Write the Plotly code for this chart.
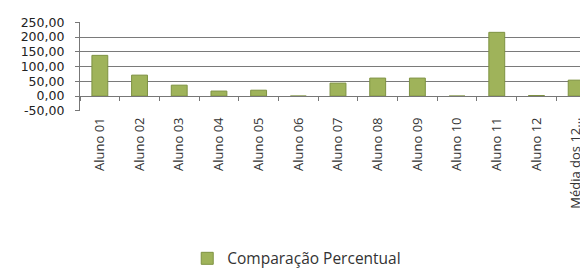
import plotly.graph_objects as go

categories = ["Aluno 01", "Aluno 02", "Aluno 03", "Aluno 04", "Aluno 05", "Aluno 06",
              "Aluno 07", "Aluno 08", "Aluno 09", "Aluno 10", "Aluno 11", "Aluno 12",
              "Média dos 12..."]
values = [138, 71, 37, 17, 20, 0, 44, 61, 61, 0, 216, 2, 54]
series_name = "Comparação Percentual"
y_tickvals = [-50, 0, 50, 100, 150, 200, 250]
y_ticktext = ["-50,00", "0,00", "50,00", "100,00", "150,00", "200,00", "250,00"]

fig = go.Figure()
fig.add_trace(go.Bar(
    x=categories, y=values, name=series_name,
    marker=dict(color="#9fb35a", line=dict(color="#7e9242", width=1)),
    showlegend=True,
))

fig.update_layout(
    width=588, height=270,
    margin=dict(l=72, r=0, t=14, b=167, autoexpand=False),
    paper_bgcolor="white", plot_bgcolor="white",
    bargap=0.6,
    font=dict(family="Open Sans", color="#222"),
    legend=dict(orientation="h", x=0.42, xanchor="center", y=-1.66, yanchor="middle",
                font=dict(size=15.5, family="Open Sans", color="#333"),
                itemwidth=30),
    xaxis=dict(
        type="category", anchor="free", position=50/300,
        showline=True, linecolor="#777", linewidth=1.2,
        ticks="outside", ticklen=4, tickcolor="#777", tickson="boundaries",
        tickangle=-90, tickfont=dict(size=13, family="Open Sans", color="#333"),
        ticklabelstandoff=15, automargin=False,
        showgrid=False,
    ),
    yaxis=dict(
        range=[-50.5, 251], tickvals=y_tickvals, ticktext=y_ticktext,
        showgrid=True, gridcolor="#7a7a7a", gridwidth=1.4,
        zeroline=False, automargin=False,
        showline=True, linecolor="#777", linewidth=1.2,
        ticks="outside", ticklen=4, tickcolor="#777",
        ticklabelstandoff=8,
        tickfont=dict(size=12.5, family="DejaVu Sans", color="#222"),
    ),
)

fig.write_html("out.html")
